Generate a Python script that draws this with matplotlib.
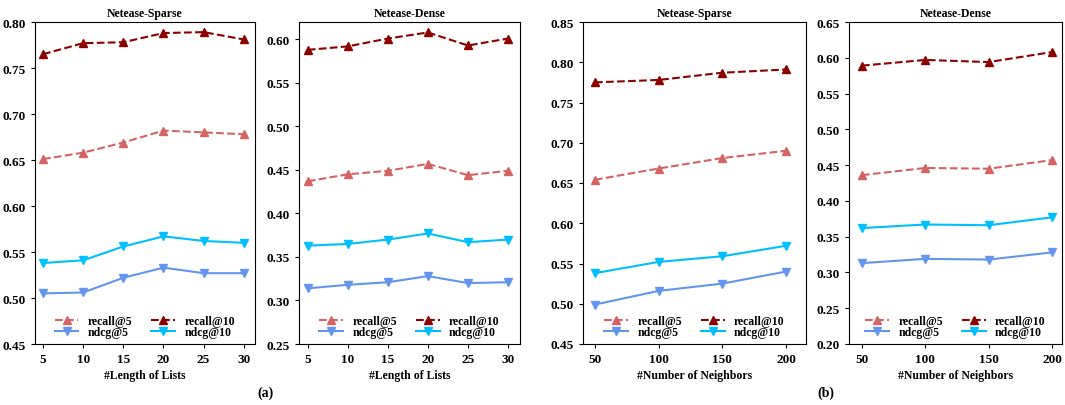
import matplotlib
matplotlib.use('Agg')
import matplotlib.pyplot as plt

plt.rcParams['font.family'] = ['Liberation Serif', 'DejaVu Serif']
plt.rcParams['font.weight'] = 'bold'
plt.rcParams['axes.labelweight'] = 'bold'
plt.rcParams['axes.titleweight'] = 'bold'

# x values
list_lengths = [5, 10, 15, 20, 25, 30]
neighbors = [50, 100, 150, 200]

# (a) length of lists
len_sparse_recall5 = [0.651, 0.658, 0.669, 0.682, 0.680, 0.678]
len_sparse_recall10 = [0.765, 0.777, 0.778, 0.788, 0.789, 0.781]
len_sparse_ndcg5 = [0.505, 0.506, 0.522, 0.533, 0.527, 0.527]
len_sparse_ndcg10 = [0.538, 0.541, 0.556, 0.567, 0.562, 0.560]

len_dense_recall5 = [0.437, 0.445, 0.449, 0.457, 0.444, 0.449]
len_dense_recall10 = [0.588, 0.592, 0.601, 0.608, 0.593, 0.601]
len_dense_ndcg5 = [0.314, 0.318, 0.321, 0.328, 0.320, 0.321]
len_dense_ndcg10 = [0.363, 0.365, 0.370, 0.377, 0.367, 0.370]

# (b) number of neighbors
nb_sparse_recall5 = [0.654, 0.668, 0.681, 0.690]
nb_sparse_recall10 = [0.775, 0.778, 0.787, 0.791]
nb_sparse_ndcg5 = [0.499, 0.516, 0.525, 0.540]
nb_sparse_ndcg10 = [0.538, 0.552, 0.559, 0.572]

nb_dense_recall5 = [0.436, 0.446, 0.445, 0.457]
nb_dense_recall10 = [0.589, 0.597, 0.594, 0.608]
nb_dense_ndcg5 = [0.313, 0.319, 0.318, 0.328]
nb_dense_ndcg10 = [0.362, 0.367, 0.366, 0.377]

fig = plt.figure(figsize=(10.65, 4.06), dpi=100)
W, H = 1065, 406

def add_ax(left, right, top=23, bottom=345):
    return fig.add_axes([left / W, 1 - bottom / H, (right - left) / W, (bottom - top) / H])

panels = [
    (add_ax(35, 255), list_lengths, len_sparse_recall5, len_sparse_recall10, len_sparse_ndcg5, len_sparse_ndcg10,
     'Netease-Sparse', '#Length of Lists', (0.45, 0.80), [0.45, 0.50, 0.55, 0.60, 0.65, 0.70, 0.75, 0.80], (4.0, 31.4)),
    (add_ax(299, 520), list_lengths, len_dense_recall5, len_dense_recall10, len_dense_ndcg5, len_dense_ndcg10,
     'Netease-Dense', '#Length of Lists', (0.25, 0.62), [0.25, 0.30, 0.35, 0.40, 0.45, 0.50, 0.55, 0.60], (3.9, 31.5)),
    (add_ax(583, 806), neighbors, nb_sparse_recall5, nb_sparse_recall10, nb_sparse_ndcg5, nb_sparse_ndcg10,
     'Netease-Sparse', '#Number of Neighbors', (0.45, 0.85), [0.45, 0.50, 0.55, 0.60, 0.65, 0.70, 0.75, 0.80, 0.85], (40.6, 215.7)),
    (add_ax(849, 1062), neighbors, nb_dense_recall5, nb_dense_recall10, nb_dense_ndcg5, nb_dense_ndcg10,
     'Netease-Dense', '#Number of Neighbors', (0.20, 0.65), [0.20, 0.25, 0.30, 0.35, 0.40, 0.45, 0.50, 0.55, 0.60, 0.65], (39.8, 207.9)),
]

for ax, x, r5, r10, n5, n10, title, xlabel, ylim, yticks, xlim in panels:
    l1, = ax.plot(x, r5, '--', marker='^', color='#d46464', lw=1.5, ms=6, label='recall@5')
    l2, = ax.plot(x, r10, '--', marker='^', color='#8b0000', lw=1.5, ms=6, label='recall@10')
    l3, = ax.plot(x, n5, '-', marker='v', color='#6495ed', lw=1.5, ms=6, label='ndcg@5')
    l4, = ax.plot(x, n10, '-', marker='v', color='#00bfff', lw=1.5, ms=6, label='ndcg@10')
    ax.set_title(title, fontsize=8.5, fontweight='bold', pad=4)
    ax.set_xlabel(xlabel, fontsize=8.5, fontweight='bold', labelpad=3)
    ax.set_ylim(*ylim)
    ax.set_yticks(yticks)
    ax.set_yticklabels([f'{v:.2f}' for v in yticks])
    ax.set_xticks(x)
    ax.set_xlim(*xlim)
    ax.tick_params(labelsize=9.5, length=3, width=0.8)
    for lab in ax.get_xticklabels() + ax.get_yticklabels():
        lab.set_fontweight('bold')
    ax.legend([l1, l3, l2, l4], ['recall@5', 'ndcg@5', 'recall@10', 'ndcg@10'],
              loc='lower center', ncol=2, frameon=False, markerscale=0.85,
              handlelength=2.0, columnspacing=1.6, labelspacing=-0.1,
              handletextpad=0.8, borderaxespad=0.1, prop={'weight': 'bold', 'size': 8.5})

fig.text(266 / W, 1 - 393 / H, '(a)', ha='center', va='center', fontsize=10, fontweight='bold')
fig.text(826 / W, 1 - 393 / H, '(b)', ha='center', va='center', fontsize=10, fontweight='bold')

fig.savefig('out.png', dpi=100)
